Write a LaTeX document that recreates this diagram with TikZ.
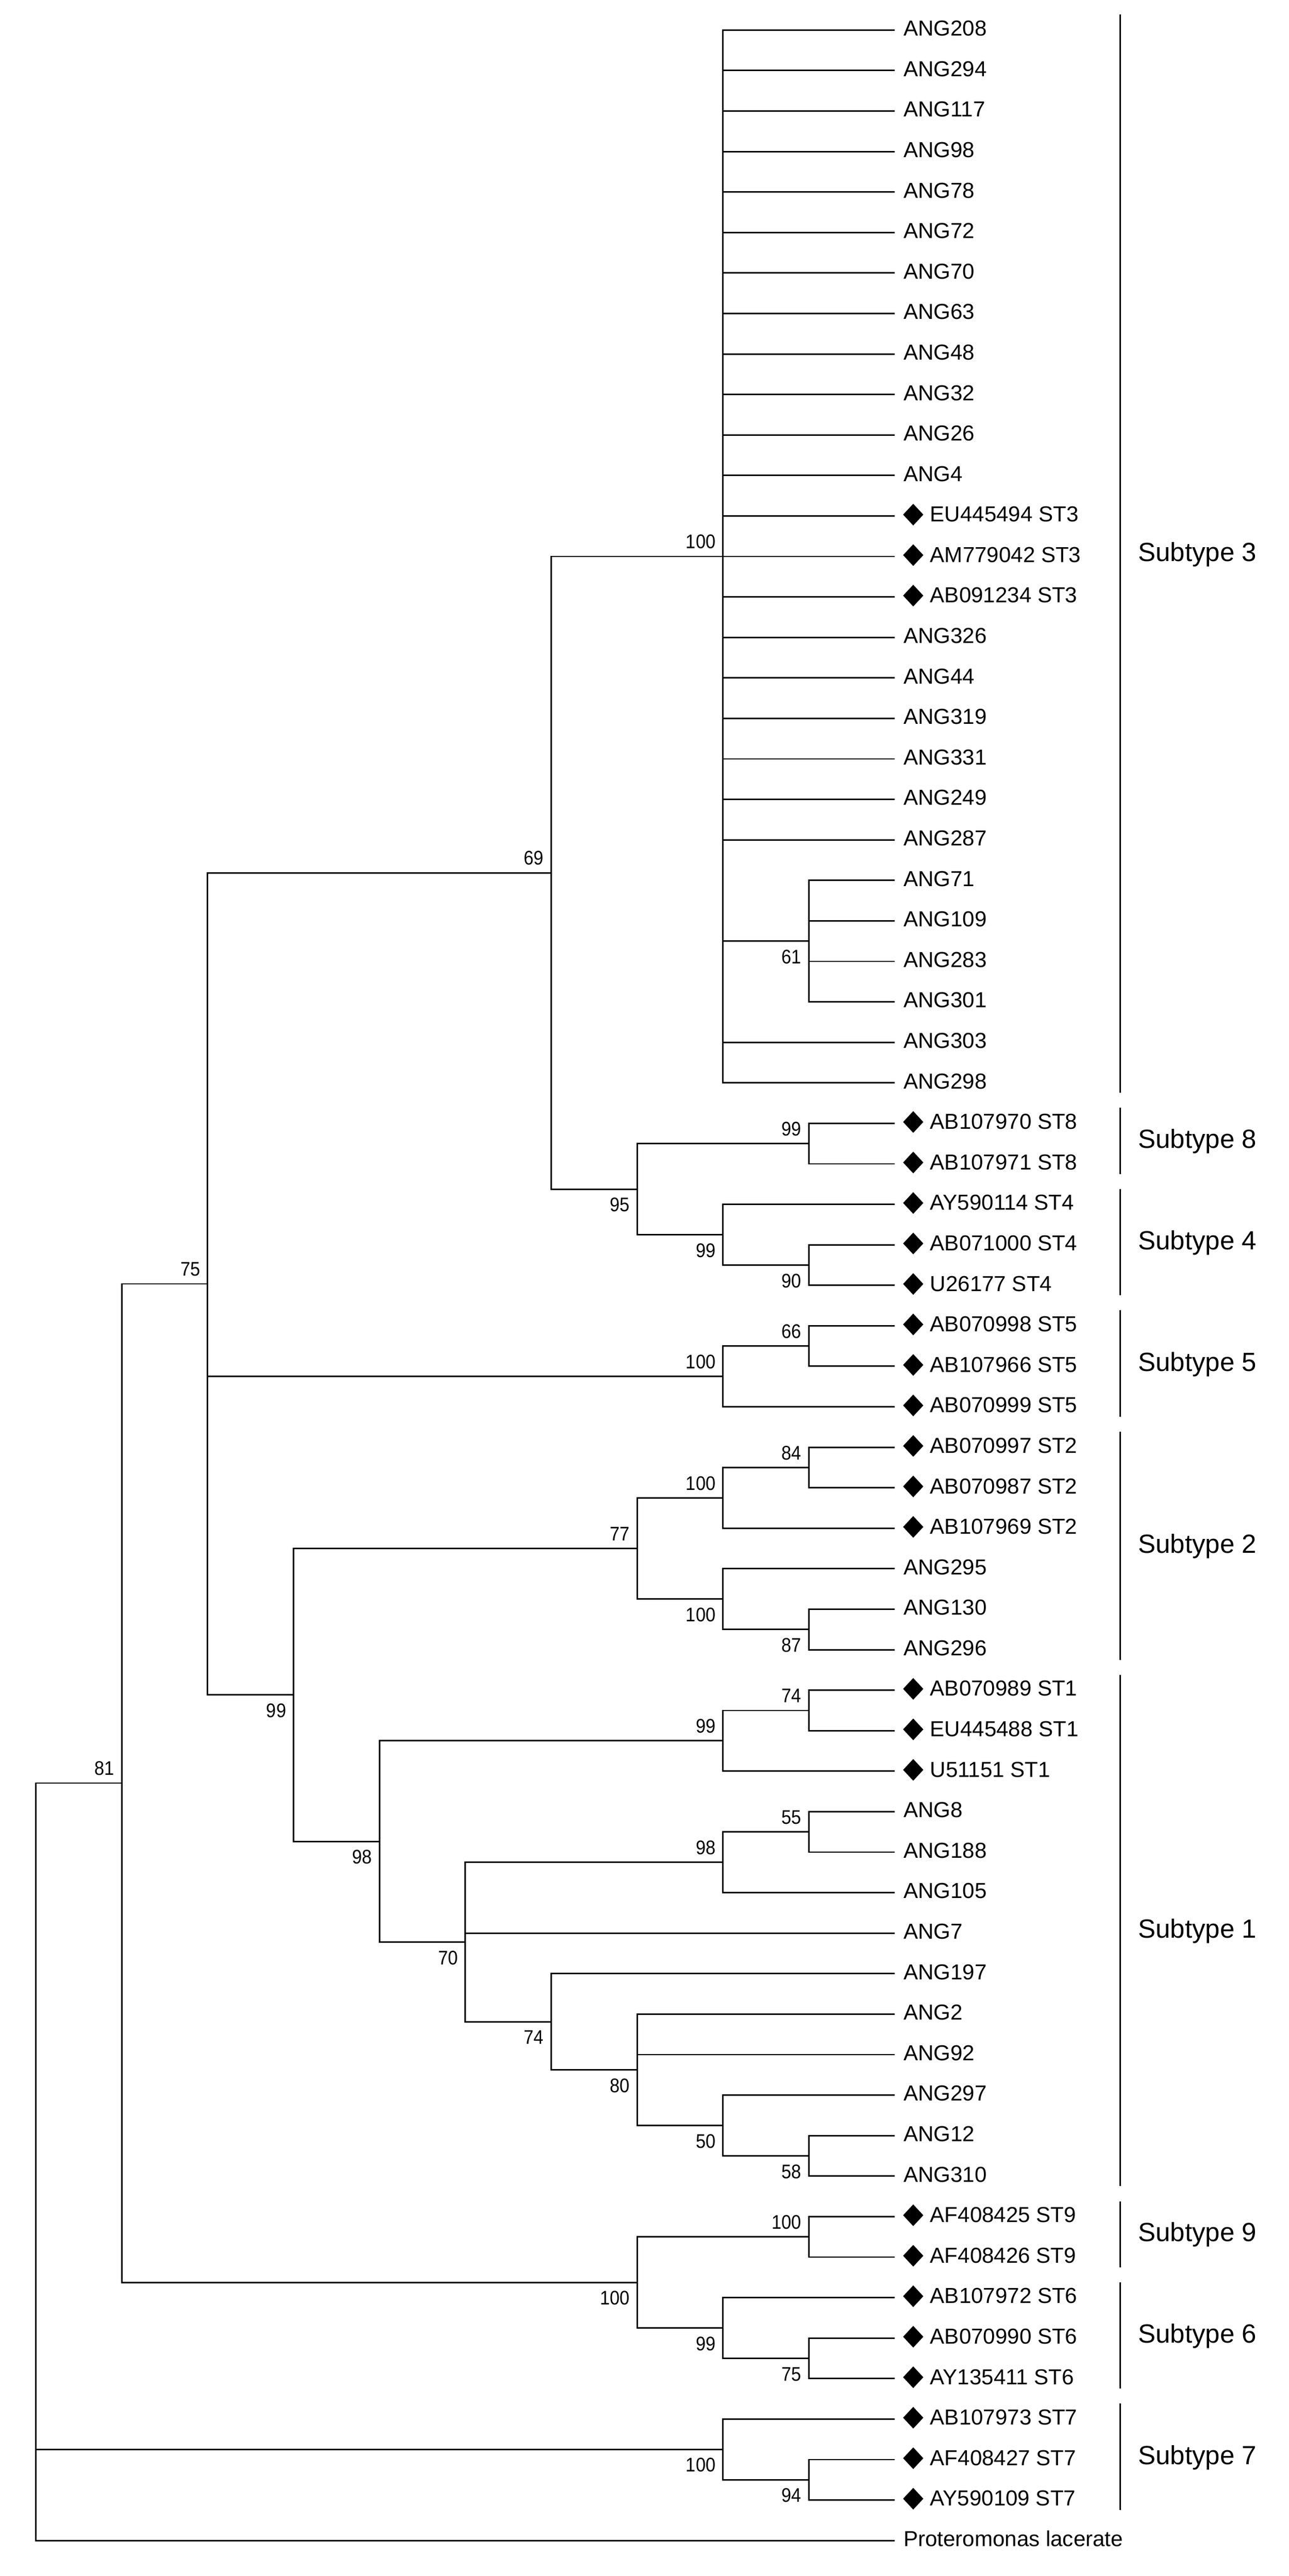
\documentclass[tikz,border=0pt]{standalone}
\usepackage{fontspec}
\setmainfont{Liberation Sans}
\newfontfamily\bootfont[FakeStretch=0.9]{Liberation Sans}
\usetikzlibrary{positioning,shapes.geometric}

\begin{document}
\begin{tikzpicture}[x=52.26pt,y=-24.648pt,line width=0.9pt,
    every edge/.style={draw,line width=0.9pt,to path={|- (\tikztotarget)}},
    leaf/.style={anchor=west,inner xsep=5.4pt,inner ysep=0pt,outer sep=0pt,text height=9.5pt,text depth=2.4pt,font=\fontsize{13.2pt}{15pt}\selectfont},
    ref/.style={leaf,inner xsep=21.6pt},
    refmark/.style={diamond,fill,inner sep=0pt,outer sep=0pt,minimum width=12.3pt,minimum height=13.2pt,yshift=0.8pt},
    boot/.style={inner sep=0pt,outer sep=0pt,text height=8.6pt,text depth=0pt,font=\bootfont\fontsize{12pt}{14pt}\selectfont},
    group/.style={anchor=west,xshift=10.5pt,yshift=1.3pt,inner sep=0pt,text height=11.5pt,text depth=0pt,font=\fontsize{16pt}{19pt}\selectfont}]
    \useasboundingbox (-0.41791,-0.74246) rectangle (14.5878,62.877);

    \node[leaf] (ANG208) at (10,0) {ANG208};
    \node[leaf] (ANG294) at (10,1) {ANG294};
    \node[leaf] (ANG117) at (10,2) {ANG117};
    \node[leaf] (ANG98) at (10,3) {ANG98};
    \node[leaf] (ANG78) at (10,4) {ANG78};
    \node[leaf] (ANG72) at (10,5) {ANG72};
    \node[leaf] (ANG70) at (10,6) {ANG70};
    \node[leaf] (ANG63) at (10,7) {ANG63};
    \node[leaf] (ANG48) at (10,8) {ANG48};
    \node[leaf] (ANG32) at (10,9) {ANG32};
    \node[leaf] (ANG26) at (10,10) {ANG26};
    \node[leaf] (ANG4) at (10,11) {ANG4};
    \node[ref] (EU445494) at (10,12) {EU445494 ST3};
    \node[ref] (AM779042) at (10,13) {AM779042 ST3};
    \node[ref] (AB091234) at (10,14) {AB091234 ST3};
    \node[leaf] (ANG326) at (10,15) {ANG326};
    \node[leaf] (ANG44) at (10,16) {ANG44};
    \node[leaf] (ANG319) at (10,17) {ANG319};
    \node[leaf] (ANG331) at (10,18) {ANG331};
    \node[leaf] (ANG249) at (10,19) {ANG249};
    \node[leaf] (ANG287) at (10,20) {ANG287};
    \node[leaf] (ANG71) at (10,21) {ANG71};
    \node[leaf] (ANG109) at (10,22) {ANG109};
    \node[leaf] (ANG283) at (10,23) {ANG283};
    \node[leaf] (ANG301) at (10,24) {ANG301};
    \node[leaf] (ANG303) at (10,25) {ANG303};
    \node[leaf] (ANG298) at (10,26) {ANG298};
    \node[ref] (AB107970) at (10,27) {AB107970 ST8};
    \node[ref] (AB107971) at (10,28) {AB107971 ST8};
    \node[ref] (AY590114) at (10,29) {AY590114 ST4};
    \node[ref] (AB071000) at (10,30) {AB071000 ST4};
    \node[ref] (U26177) at (10,31) {U26177 ST4};
    \node[ref] (AB070998) at (10,32) {AB070998 ST5};
    \node[ref] (AB107966) at (10,33) {AB107966 ST5};
    \node[ref] (AB070999) at (10,34) {AB070999 ST5};
    \node[ref] (AB070997) at (10,35) {AB070997 ST2};
    \node[ref] (AB070987) at (10,36) {AB070987 ST2};
    \node[ref] (AB107969) at (10,37) {AB107969 ST2};
    \node[leaf] (ANG295) at (10,38) {ANG295};
    \node[leaf] (ANG130) at (10,39) {ANG130};
    \node[leaf] (ANG296) at (10,40) {ANG296};
    \node[ref] (AB070989) at (10,41) {AB070989 ST1};
    \node[ref] (EU445488) at (10,42) {EU445488 ST1};
    \node[ref] (U51151) at (10,43) {U51151 ST1};
    \node[leaf] (ANG8) at (10,44) {ANG8};
    \node[leaf] (ANG188) at (10,45) {ANG188};
    \node[leaf] (ANG105) at (10,46) {ANG105};
    \node[leaf] (ANG7) at (10,47) {ANG7};
    \node[leaf] (ANG197) at (10,48) {ANG197};
    \node[leaf] (ANG2) at (10,49) {ANG2};
    \node[leaf] (ANG92) at (10,50) {ANG92};
    \node[leaf] (ANG297) at (10,51) {ANG297};
    \node[leaf] (ANG12) at (10,52) {ANG12};
    \node[leaf] (ANG310) at (10,53) {ANG310};
    \node[ref] (AF408425) at (10,54) {AF408425 ST9};
    \node[ref] (AF408426) at (10,55) {AF408426 ST9};
    \node[ref] (AB107972) at (10,56) {AB107972 ST6};
    \node[ref] (AB070990) at (10,57) {AB070990 ST6};
    \node[ref] (AY135411) at (10,58) {AY135411 ST6};
    \node[ref] (AB107973) at (10,59) {AB107973 ST7};
    \node[ref] (AF408427) at (10,60) {AF408427 ST7};
    \node[ref] (AY590109) at (10,61) {AY590109 ST7};
    \node[leaf] (Pl) at (10,62) {Proteromonas lacerate};

    \foreach \r in {EU445494,AM779042,AB091234,AB107970,AB107971,AY590114,AB071000,U26177,AB070998,AB107966,AB070999,AB070997,AB070987,AB107969,AB070989,EU445488,U51151,AF408425,AF408426,AB107972,AB070990,AY135411,AB107973,AF408427,AY590109}
        \node[refmark] (d\r) [right=5.1pt of \r.west] {};

    \coordinate (n1) at (9,22.5);
    \coordinate (n2) at (8,13);
    \coordinate (n3) at (9,27.5);
    \coordinate (n4) at (9,30.5);
    \coordinate (n5) at (8,29.75);
    \coordinate (n6) at (7,28.625);
    \coordinate (n7) at (6,20.8125);
    \coordinate (n8) at (9,32.5);
    \coordinate (n9) at (8,33.25);
    \coordinate (n10) at (9,35.5);
    \coordinate (n11) at (8,36.25);
    \coordinate (n12) at (9,39.5);
    \coordinate (n13) at (8,38.75);
    \coordinate (n14) at (7,37.5);
    \coordinate (n15) at (9,41.5);
    \coordinate (n16) at (8,42.25);
    \coordinate (n17) at (9,44.5);
    \coordinate (n18) at (8,45.25);
    \coordinate (n19) at (9,52.5);
    \coordinate (n20) at (8,51.75);
    \coordinate (n21) at (7,50.375);
    \coordinate (n22) at (6,49.1875);
    \coordinate (n23) at (5,47.21875);
    \coordinate (n24) at (4,44.734375);
    \coordinate (n25) at (3,41.1171875);
    \coordinate (n26) at (2,30.96484375);
    \coordinate (n27) at (9,54.5);
    \coordinate (n28) at (9,57.5);
    \coordinate (n29) at (8,56.75);
    \coordinate (n30) at (7,55.625);
    \coordinate (n31) at (1,43.294921875);
    \coordinate (n32) at (9,60.5);
    \coordinate (n33) at (8,59.75);
    \coordinate (n34) at (0,52.6474609375);

    \path (n1) edge (ANG71) edge (ANG109) edge (ANG283) edge (ANG301);
    \path (n2) edge (ANG208) edge (ANG294) edge (ANG117) edge (ANG98) edge (ANG78) edge (ANG72)
        edge (ANG70) edge (ANG63) edge (ANG48) edge (ANG32) edge (ANG26) edge (ANG4)
        edge (EU445494) edge (AM779042) edge (AB091234) edge (ANG326) edge (ANG44) edge (ANG319)
        edge (ANG331) edge (ANG249) edge (ANG287) edge (n1) edge (ANG303) edge (ANG298);
    \path (n3) edge (AB107970) edge (AB107971);
    \path (n4) edge (AB071000) edge (U26177);
    \path (n5) edge (AY590114) edge (n4);
    \path (n6) edge (n3) edge (n5);
    \path (n7) edge (n2) edge (n6);
    \path (n8) edge (AB070998) edge (AB107966);
    \path (n9) edge (n8) edge (AB070999);
    \path (n10) edge (AB070997) edge (AB070987);
    \path (n11) edge (n10) edge (AB107969);
    \path (n12) edge (ANG130) edge (ANG296);
    \path (n13) edge (ANG295) edge (n12);
    \path (n14) edge (n11) edge (n13);
    \path (n15) edge (AB070989) edge (EU445488);
    \path (n16) edge (n15) edge (U51151);
    \path (n17) edge (ANG8) edge (ANG188);
    \path (n18) edge (n17) edge (ANG105);
    \path (n19) edge (ANG12) edge (ANG310);
    \path (n20) edge (ANG297) edge (n19);
    \path (n21) edge (ANG2) edge (ANG92) edge (n20);
    \path (n22) edge (ANG197) edge (n21);
    \path (n23) edge (n18) edge (ANG7) edge (n22);
    \path (n24) edge (n16) edge (n23);
    \path (n25) edge (n14) edge (n24);
    \path (n26) edge (n7) edge (n9) edge (n25);
    \path (n27) edge (AF408425) edge (AF408426);
    \path (n28) edge (AB070990) edge (AY135411);
    \path (n29) edge (AB107972) edge (n28);
    \path (n30) edge (n27) edge (n29);
    \path (n31) edge (n26) edge (n30);
    \path (n32) edge (AF408427) edge (AY590109);
    \path (n33) edge (AB107973) edge (n32);
    \path (n34) edge (n31) edge (n33) edge (Pl);

    \node[boot,below left=5.1pt and 4.5pt of n1] (v1) {61};
    \node[boot,above left=4.8pt and 4.5pt of n2] (v2) {100};
    \node[boot,above left=4.8pt and 4.5pt of n3] (v3) {99};
    \node[boot,below left=5.1pt and 4.5pt of n4] (v4) {90};
    \node[boot,below left=5.1pt and 4.5pt of n5] (v5) {99};
    \node[boot,below left=5.1pt and 4.5pt of n6] (v6) {95};
    \node[boot,above left=4.8pt and 4.5pt of n7] (v7) {69};
    \node[boot,above left=4.8pt and 4.5pt of n8] (v8) {66};
    \node[boot,above left=4.8pt and 4.5pt of n9] (v9) {100};
    \node[boot,above left=4.8pt and 4.5pt of n10] (v10) {84};
    \node[boot,above left=4.8pt and 4.5pt of n11] (v11) {100};
    \node[boot,below left=5.1pt and 4.5pt of n12] (v12) {87};
    \node[boot,below left=5.1pt and 4.5pt of n13] (v13) {100};
    \node[boot,above left=4.8pt and 4.5pt of n14] (v14) {77};
    \node[boot,above left=4.8pt and 4.5pt of n15] (v15) {74};
    \node[boot,above left=4.8pt and 4.5pt of n16] (v16) {99};
    \node[boot,above left=4.8pt and 4.5pt of n17] (v17) {55};
    \node[boot,above left=4.8pt and 4.5pt of n18] (v18) {98};
    \node[boot,below left=5.1pt and 4.5pt of n19] (v19) {58};
    \node[boot,below left=5.1pt and 4.5pt of n20] (v20) {50};
    \node[boot,below left=5.1pt and 4.5pt of n21] (v21) {80};
    \node[boot,below left=5.1pt and 4.5pt of n22] (v22) {74};
    \node[boot,below left=5.1pt and 4.5pt of n23] (v23) {70};
    \node[boot,below left=5.1pt and 4.5pt of n24] (v24) {98};
    \node[boot,below left=5.1pt and 4.5pt of n25] (v25) {99};
    \node[boot,above left=4.8pt and 4.5pt of n26] (v26) {75};
    \node[boot,above left=4.8pt and 4.5pt of n27] (v27) {100};
    \node[boot,below left=5.1pt and 4.5pt of n28] (v28) {75};
    \node[boot,below left=5.1pt and 4.5pt of n29] (v29) {99};
    \node[boot,below left=5.1pt and 4.5pt of n30] (v30) {100};
    \node[boot,above left=4.8pt and 4.5pt of n31] (v31) {81};
    \node[boot,below left=5.1pt and 4.5pt of n32] (v32) {94};
    \node[boot,below left=5.1pt and 4.5pt of n33] (v33) {100};

    \draw (12.625,-0.38) -- node[group] (g3) {Subtype 3} (12.625,26.25);
    \draw (12.625,26.62) -- node[group] (g8) {Subtype 8} (12.625,28.25);
    \draw (12.625,28.62) -- node[group] (g4) {Subtype 4} (12.625,31.25);
    \draw (12.625,31.62) -- node[group] (g5) {Subtype 5} (12.625,34.25);
    \draw (12.625,34.62) -- node[group] (g2) {Subtype 2} (12.625,40.25);
    \draw (12.625,40.62) -- node[group] (g1) {Subtype 1} (12.625,53.25);
    \draw (12.625,53.62) -- node[group] (g9) {Subtype 9} (12.625,55.25);
    \draw (12.625,55.62) -- node[group] (g6) {Subtype 6} (12.625,58.25);
    \draw (12.625,58.62) -- node[group] (g7) {Subtype 7} (12.625,61.25);
\end{tikzpicture}
\end{document}
